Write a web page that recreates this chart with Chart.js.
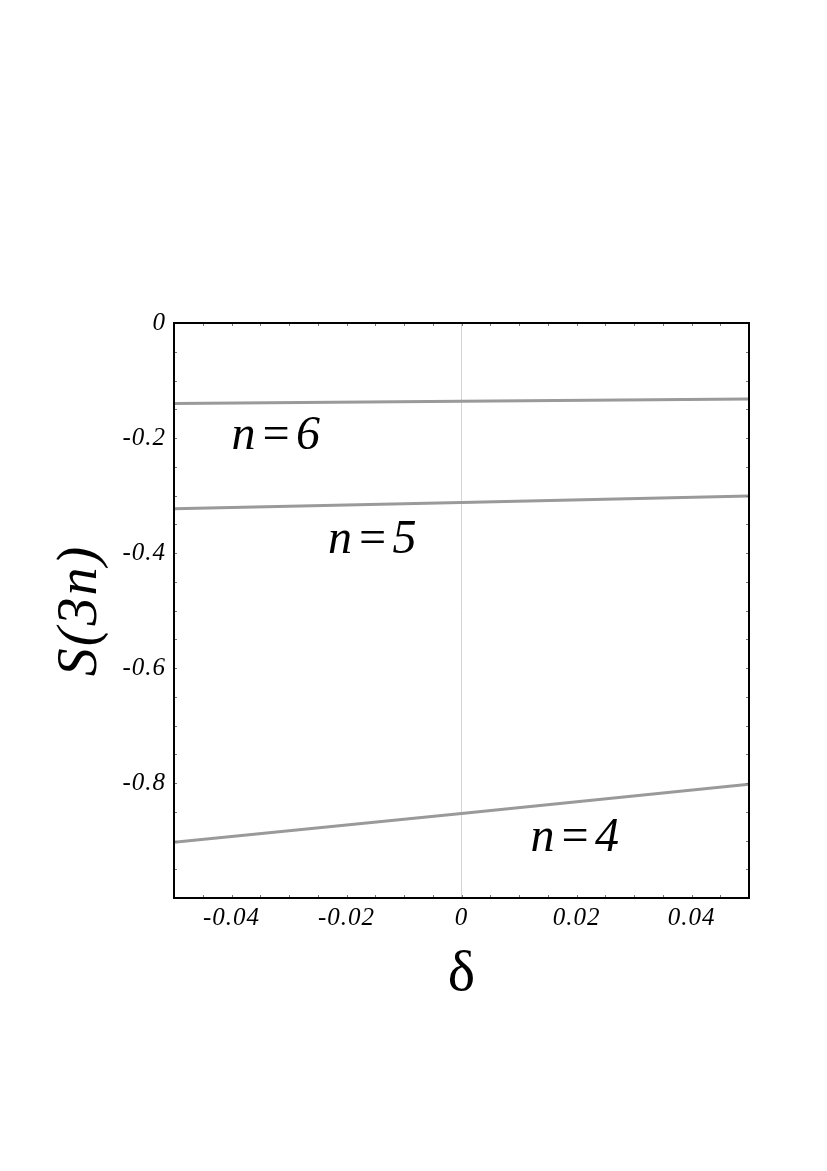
<!DOCTYPE html>
<html>
<head>
<meta charset="utf-8">
<script src="https://cdn.jsdelivr.net/npm/chart.js@4"></script>
<style>
  html, body { margin: 0; padding: 0; background: #fff; }
  #wrap { position: absolute; left: 0; top: 0; width: 827px; height: 1171px; }
</style>
</head>
<body>
<div id="wrap"><canvas id="grafico" width="827" height="1171"></canvas></div>
<script>
// DADOS
const deltas = [-0.05, 0, 0.05];
const serieN6 = [-0.140, -0.136, -0.132];
const serieN5 = [-0.323, -0.312, -0.301];
const serieN4 = [-0.903, -0.853, -0.802];
const nomesSeries = ["n=6", "n=5", "n=4"];
// posição dos rótulos em coordenadas dos dados (x, y do centro)
const rotuloX = [-0.040, -0.0232, 0.012];
const rotuloY = [-0.198, -0.378, -0.896];
const ticksX = [-0.04, -0.02, 0, 0.02, 0.04];
const ticksY = [0, -0.2, -0.4, -0.6, -0.8];

const SERIF = '"Liberation Serif", "DejaVu Serif", serif';
const corLinha = "#9a9a9a";

function pontos(ys) {
  return deltas.map((x, i) => ({ x: x, y: ys[i] }));
}

function temTick(lista, v) {
  return lista.some((t) => Math.abs(t - v) < 1e-9);
}

// plugin: espaçamento das letras (antes de desenhar)
const espacamento = {
  id: "espacamento",
  beforeDraw(chart) {
    chart.ctx.letterSpacing = "1px";
  },
};

// plugin: moldura, ticks internos, títulos e rótulos
const extras = {
  id: "extras",
  afterDraw(chart) {
    const ctx = chart.ctx;
    const a = chart.chartArea;
    const sx = chart.scales.x;
    const sy = chart.scales.y;
    ctx.save();

    // ticks internos
    ctx.strokeStyle = "#777";
    ctx.lineWidth = 1;
    ctx.beginPath();
    sx.ticks.forEach((t) => {
      const px = Math.round(sx.getPixelForValue(t.value)) + 0.5;
      ctx.moveTo(px, a.bottom);
      ctx.lineTo(px, a.bottom - 3);
      ctx.moveTo(px, a.top);
      ctx.lineTo(px, a.top + 3);
    });
    sy.ticks.forEach((t) => {
      const py = Math.round(sy.getPixelForValue(t.value)) + 0.5;
      ctx.moveTo(a.left, py);
      ctx.lineTo(a.left + 3, py);
      ctx.moveTo(a.right, py);
      ctx.lineTo(a.right - 3, py);
    });
    ctx.stroke();

    // moldura
    ctx.strokeStyle = "#000";
    ctx.lineWidth = 2;
    ctx.strokeRect(a.left, a.top, a.right - a.left, a.bottom - a.top);

    // rótulos das curvas
    ctx.fillStyle = "#000";
    ctx.letterSpacing = "4px";
    ctx.font = "italic 48px " + SERIF;
    ctx.textAlign = "left";
    ctx.textBaseline = "middle";
    nomesSeries.forEach((nome, i) => {
      ctx.fillText(nome, sx.getPixelForValue(rotuloX[i]), sy.getPixelForValue(rotuloY[i]));
    });
    ctx.letterSpacing = "0px";

    // título eixo x
    ctx.font = "58px " + SERIF;
    ctx.textAlign = "center";
    ctx.textBaseline = "alphabetic";
    ctx.fillText("δ", (a.left + a.right) / 2, 990);

    // título eixo y
    ctx.save();
    ctx.translate(96, (a.top + a.bottom) / 2);
    ctx.rotate(-Math.PI / 2);
    ctx.letterSpacing = "2px";
    ctx.font = "italic 56px " + SERIF;
    ctx.textAlign = "center";
    ctx.fillText("S(3n)", 0, 0);
    ctx.restore();

    ctx.restore();
  },
};

const grafico = new Chart(document.querySelector("#grafico"), {
  type: "scatter",
  data: {
    datasets: [
      { label: nomesSeries[0], data: pontos(serieN6) },
      { label: nomesSeries[1], data: pontos(serieN5) },
      { label: nomesSeries[2], data: pontos(serieN4) },
    ].map((d) => ({
      ...d,
      showLine: true,
      borderColor: corLinha,
      borderWidth: 3,
      pointRadius: 0,
      fill: false,
    })),
  },
  options: {
    responsive: false,
    animation: false,
    layout: { padding: { left: 0, top: 323, right: 78, bottom: 0 } },
    plugins: { legend: { display: false }, tooltip: { enabled: false } },
    scales: {
      x: {
        type: "linear",
        min: -0.05,
        max: 0.05,
        afterFit: (s) => { s.height = 1171 - 898; },
        border: { display: false },
        grid: {
          drawTicks: false,
          color: (c) => (c.tick && Math.abs(c.tick.value) < 1e-9 ? "#d4d4d4" : "rgba(0,0,0,0)"),
          lineWidth: 1,
        },
        ticks: {
          stepSize: 0.005,
          autoSkip: false,
          maxRotation: 0,
          padding: 5,
          color: "#000",
          font: { family: SERIF, style: "italic", size: 25 },
          callback: (v) => (temTick(ticksX, v) ? String(Number(v.toFixed(2))) : ""),
        },
      },
      y: {
        type: "linear",
        min: -1,
        max: 0,
        afterFit: (s) => { s.width = 174; },
        border: { display: false },
        grid: { drawTicks: false, display: true, color: "rgba(0,0,0,0)" },
        ticks: {
          stepSize: 0.05,
          autoSkip: false,
          padding: 8,
          color: "#000",
          font: { family: SERIF, style: "italic", size: 25 },
          callback: (v) => (temTick(ticksY, v) ? String(Number(v.toFixed(1))) : ""),
        },
      },
    },
  },
  plugins: [espacamento, extras],
});
</script>
</body>
</html>
